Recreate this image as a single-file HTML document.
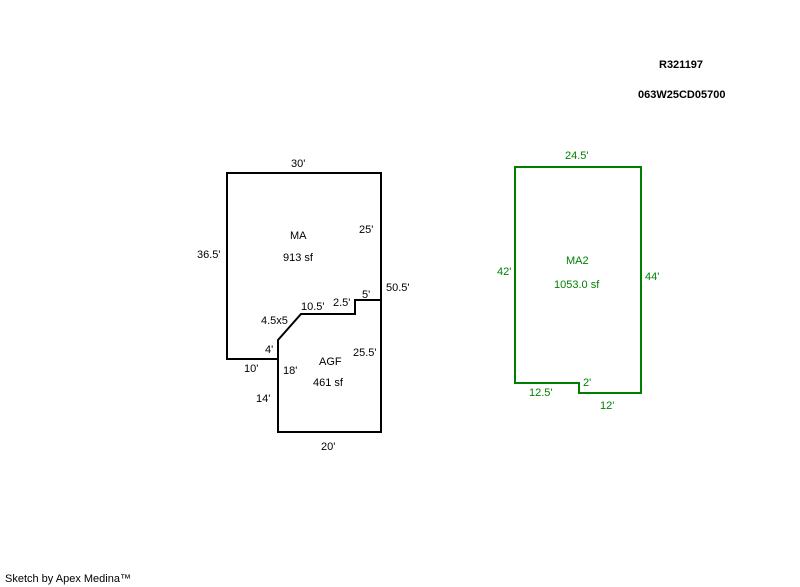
<!DOCTYPE html>
<html><head><style>
html,body{margin:0;padding:0;background:#fff;width:800px;height:587px;overflow:hidden}
svg{display:block}
text{font-family:"Liberation Sans",Arial,sans-serif;font-size:11px}
</style></head><body>
<svg width="800" height="587" viewBox="0 0 800 587">
<g fill="none" stroke="#000" stroke-width="2">
<polyline points="278,359 227,359 227,173 381,173 381,300"/>
<polygon points="278,340 301,314 355,314 355,300 381,300 381,432 278,432"/>
</g>
<polygon points="515,167 641,167 641,393 579,393 579,383 515,383" fill="none" stroke="#008000" stroke-width="2"/>
<g fill="#000">
<text x="659" y="68" font-weight="bold">R321197</text>
<text x="638" y="98" font-weight="bold">063W25CD05700</text>
<text x="291" y="167">30'</text>
<text x="197" y="258">36.5'</text>
<text x="290" y="239">MA</text>
<text x="283" y="261">913 sf</text>
<text x="359" y="233">25'</text>
<text x="386" y="291">50.5'</text>
<text x="301" y="310">10.5'</text>
<text x="333" y="306">2.5'</text>
<text x="362" y="298">5'</text>
<text x="261" y="324">4.5x5</text>
<text x="265" y="353">4'</text>
<text x="244" y="372">10'</text>
<text x="283" y="374">18'</text>
<text x="319" y="365">AGF</text>
<text x="313" y="386">461 sf</text>
<text x="353" y="356">25.5'</text>
<text x="256" y="402">14'</text>
<text x="321" y="450">20'</text>
<text x="5" y="582" font-size="10">Sketch by Apex Medina™</text>
</g>
<g fill="#008000">
<text x="565" y="159">24.5'</text>
<text x="497" y="275">42'</text>
<text x="566" y="264">MA2</text>
<text x="554" y="288">1053.0 sf</text>
<text x="645" y="280">44'</text>
<text x="529" y="396">12.5'</text>
<text x="583" y="386">2'</text>
<text x="600" y="409">12'</text>
</g>
</svg>
</body></html>
